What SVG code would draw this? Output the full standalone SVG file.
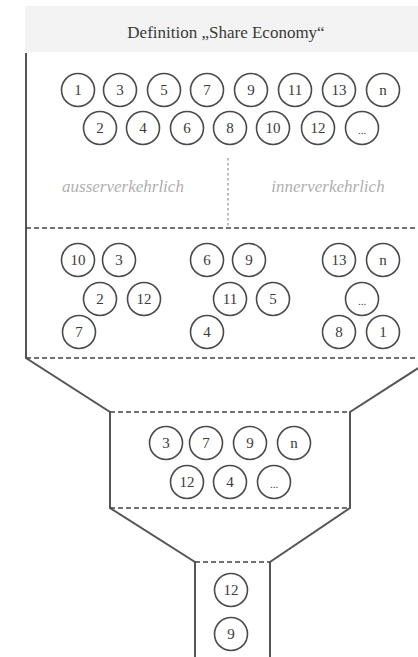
<svg xmlns="http://www.w3.org/2000/svg" width="418" height="657" viewBox="0 0 418 657">
<style>
.c circle{fill:#fff;stroke:#4a4a4a;stroke-width:1.6}
.c text{font-family:'Liberation Serif','Times New Roman','DejaVu Serif',serif;font-size:15px;fill:#3a3a3a;text-anchor:middle}
.c text.d{font-size:11px}
.solid{fill:none;stroke:#555;stroke-width:2}
.dash{fill:none;stroke:#444;stroke-width:1.6;stroke-dasharray:5 3}
.dot{fill:none;stroke:#999;stroke-width:1.3;stroke-dasharray:2.5 2.5}
.lbl{font-family:'Liberation Serif','Times New Roman','DejaVu Serif',serif;font-style:italic;font-size:17px;fill:#b0b0b0;text-anchor:middle}
.hdr{font-family:'Liberation Serif','Times New Roman','DejaVu Serif',serif;font-size:17px;fill:#3a3a3a;text-anchor:middle}
</style>
<rect width="418" height="657" fill="#fff"/>
<g id="header">
<rect x="25" y="6" width="393" height="46" fill="#f3f3f3"/>
<text class="hdr" x="226" y="38">Definition „Share Economy“</text>
</g>
<g id="connectors">
<path class="solid" d="M26,53 V358 L110,412 V508 L195,562 V657"/>
<path class="solid" d="M434,358 L350,412 V508 L270,562 V657"/>
<line class="dash" x1="26" y1="228" x2="418" y2="228"/>
<line class="dash" x1="26" y1="358" x2="418" y2="358"/>
<line class="dash" x1="110" y1="412" x2="350" y2="412"/>
<line class="dash" x1="110" y1="508" x2="350" y2="508"/>
<line class="dash" x1="195" y1="562" x2="270" y2="562"/>
<line class="dot" x1="228" y1="158" x2="228" y2="226"/>
</g>
<g id="labels">
<text class="lbl" x="123" y="192">ausserverkehrlich</text>
<text class="lbl" x="328" y="192">innerverkehrlich</text>
</g>
<g class="c">
<g id="a1"><circle cx="78" cy="90" r="16.5"/><text x="78" y="95">1</text></g>
<g id="a3"><circle cx="120" cy="90" r="16.5"/><text x="120" y="95">3</text></g>
<g id="a5"><circle cx="164" cy="90" r="16.5"/><text x="164" y="95">5</text></g>
<g id="a7"><circle cx="207" cy="90" r="16.5"/><text x="207" y="95">7</text></g>
<g id="a9"><circle cx="251" cy="90" r="16.5"/><text x="251" y="95">9</text></g>
<g id="a11"><circle cx="295" cy="90" r="16.5"/><text x="295" y="95">11</text></g>
<g id="a13"><circle cx="339" cy="90" r="16.5"/><text x="339" y="95">13</text></g>
<g id="an"><circle cx="383" cy="90" r="16.5"/><text x="383" y="95">n</text></g>
<g id="a2"><circle cx="100" cy="128" r="16.5"/><text x="100" y="133">2</text></g>
<g id="a4"><circle cx="143" cy="128" r="16.5"/><text x="143" y="133">4</text></g>
<g id="a6"><circle cx="187" cy="128" r="16.5"/><text x="187" y="133">6</text></g>
<g id="a8"><circle cx="230" cy="128" r="16.5"/><text x="230" y="133">8</text></g>
<g id="a10"><circle cx="273" cy="128" r="16.5"/><text x="273" y="133">10</text></g>
<g id="a12"><circle cx="318" cy="128" r="16.5"/><text x="318" y="133">12</text></g>
<g id="aetc"><circle cx="362" cy="128" r="16.5"/><text class="d" x="362" y="134">...</text></g>

<g id="b10"><circle cx="78" cy="260" r="16.5"/><text x="78" y="265">10</text></g>
<g id="b3"><circle cx="119" cy="260" r="16.5"/><text x="119" y="265">3</text></g>
<g id="b2"><circle cx="100" cy="299" r="16.5"/><text x="100" y="304">2</text></g>
<g id="b12"><circle cx="144" cy="299" r="16.5"/><text x="144" y="304">12</text></g>
<g id="b7"><circle cx="79" cy="332" r="16.5"/><text x="79" y="337">7</text></g>
<g id="b6"><circle cx="207" cy="260" r="16.5"/><text x="207" y="265">6</text></g>
<g id="b9"><circle cx="249" cy="260" r="16.5"/><text x="249" y="265">9</text></g>
<g id="b11"><circle cx="230" cy="299" r="16.5"/><text x="230" y="304">11</text></g>
<g id="b5"><circle cx="273" cy="299" r="16.5"/><text x="273" y="304">5</text></g>
<g id="b4"><circle cx="207" cy="332" r="16.5"/><text x="207" y="337">4</text></g>
<g id="b13"><circle cx="339" cy="260" r="16.5"/><text x="339" y="265">13</text></g>
<g id="bn"><circle cx="383" cy="260" r="16.5"/><text x="383" y="265">n</text></g>
<g id="betc"><circle cx="362" cy="299" r="16.5"/><text class="d" x="362" y="305">...</text></g>
<g id="b8"><circle cx="339" cy="332" r="16.5"/><text x="339" y="337">8</text></g>
<g id="b1"><circle cx="383" cy="332" r="16.5"/><text x="383" y="337">1</text></g>

<g id="c3"><circle cx="166" cy="443" r="16.5"/><text x="166" y="448">3</text></g>
<g id="c7"><circle cx="206" cy="443" r="16.5"/><text x="206" y="448">7</text></g>
<g id="c9"><circle cx="250" cy="443" r="16.5"/><text x="250" y="448">9</text></g>
<g id="cn"><circle cx="294" cy="443" r="16.5"/><text x="294" y="448">n</text></g>
<g id="c12"><circle cx="187" cy="482" r="16.5"/><text x="187" y="487">12</text></g>
<g id="c4"><circle cx="230" cy="482" r="16.5"/><text x="230" y="487">4</text></g>
<g id="cetc"><circle cx="274" cy="482" r="16.5"/><text class="d" x="274" y="488">...</text></g>

<g id="d12"><circle cx="231" cy="590" r="16.5"/><text x="231" y="595">12</text></g>
<g id="d9"><circle cx="231" cy="634" r="16.5"/><text x="231" y="639">9</text></g>
</g>
</svg>
